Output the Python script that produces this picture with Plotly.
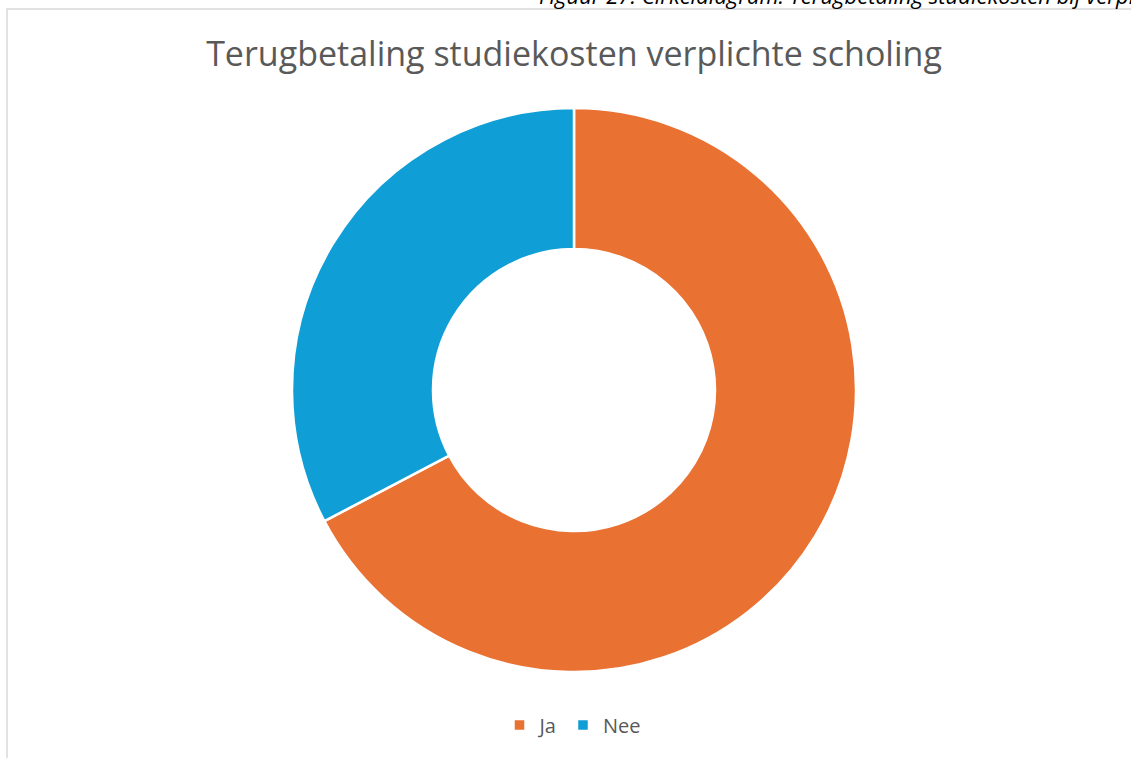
import plotly.graph_objects as go

W, H = 1131, 758

labels = ["Ja", "Nee"]
values = [67.3, 32.7]
colors = ["#E97132", "#0F9ED5"]
title_text = "Terugbetaling studiekosten verplichte scholing"
caption_text = "Figuur 27: Cirkeldiagram: Terugbetaling studiekosten bij verplichte scholing"

cx, cy, r = 574, 390, 282

fig = go.Figure(go.Pie(
    labels=labels,
    values=values,
    marker=dict(colors=colors, line=dict(color="white", width=2.5)),
    hole=0.5,
    sort=False,
    direction="clockwise",
    rotation=0,
    textinfo="none",
    hoverinfo="label+percent",
    domain=dict(x=[(cx - r) / W, (cx + r) / W], y=[1 - (cy + r) / H, 1 - (cy - r) / H]),
))

fig.update_layout(
    width=W, height=H,
    margin=dict(l=0, r=0, t=0, b=0),
    paper_bgcolor="white",
    font=dict(family="Open Sans, Noto Sans, sans-serif", color="#595959"),
    title=dict(text=title_text, x=574 / W, xanchor="center", y=1 - 54 / H, yanchor="middle",
               font=dict(size=34, color="#595959")),
    showlegend=True,
    legend=dict(orientation="h", x=573 / W, xanchor="center", y=1 - 725 / H, yanchor="middle",
                font=dict(size=20, color="#595959"), itemwidth=30, traceorder="normal"),
    shapes=[dict(type="rect", xref="paper", yref="paper",
                 x0=7 / W, x1=1.01, y0=-0.01, y1=1 - 9 / H,
                 line=dict(color="#d9d9d9", width=1.5), fillcolor="rgba(0,0,0,0)", layer="below")],
    annotations=[dict(text="<i>" + caption_text + "</i>", xref="paper", yref="paper",
                      x=537 / W, xanchor="left", y=1 - 12 / H, yanchor="bottom",
                      showarrow=False, font=dict(size=22, color="#000000",
                                                 family="Open Sans, Noto Sans, sans-serif"))],
)

fig.write_html("out.html", config={"displayModeBar": False},
               post_script="document.body.style.margin='0';document.body.style.overflow='hidden';")
